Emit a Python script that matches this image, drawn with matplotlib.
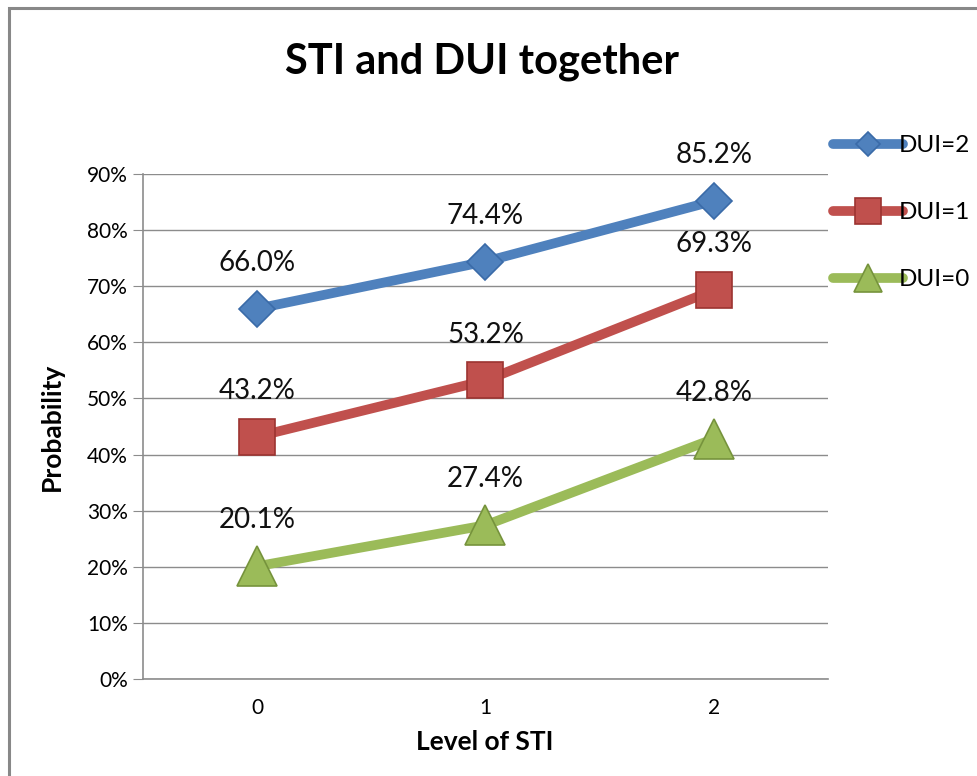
import matplotlib
matplotlib.use('Agg')
import matplotlib.pyplot as plt
from matplotlib.patches import Rectangle
from matplotlib.ticker import FuncFormatter

plt.rcParams['font.family'] = ['Lato', 'DejaVu Sans']

sti_levels = [0, 1, 2]
dui2 = [0.660, 0.744, 0.852]
dui1 = [0.432, 0.532, 0.693]
dui0 = [0.201, 0.274, 0.428]

series = [
    ('DUI=2', dui2, '#4F81BD', '#3A6BA8', 'D', 18),
    ('DUI=1', dui1, '#C0504D', '#9C3431', 's', 26),
    ('DUI=0', dui0, '#9BBB59', '#76933C', '^', 29),
]

fig = plt.figure(figsize=(9.77, 7.76), dpi=100)
ax = fig.add_axes([143 / 977, 1 - 679 / 776, 685 / 977, 505 / 776])

# outer chart border
fig.patches.append(Rectangle((9 / 977, -0.1), 1.2, 1 - 8 / 776 + 0.1,
                             transform=fig.transFigure, fill=False,
                             edgecolor='#888888', linewidth=2.2))

for label, vals, color, edge, marker, ms in series:
    ax.plot(sti_levels, vals, '-', color=color, linewidth=7,
            solid_capstyle='round', zorder=3, label=label,
            marker=marker, markersize=ms, markerfacecolor=color,
            markeredgecolor=edge, markeredgewidth=1.2)
    for x, y in zip(sti_levels, vals):
        ax.annotate('%.1f%%' % (y * 100), (x, y), xytext=(0, 33),
                    textcoords='offset points', ha='center', va='center',
                    fontsize=20, color='#111111', zorder=4)

ax.set_xlim(-0.5, 2.5)
ax.set_ylim(0, 0.9)
ax.set_yticks([i / 10 for i in range(10)])
ax.yaxis.set_major_formatter(FuncFormatter(lambda v, p: '%d%%' % round(v * 100)))
ax.set_xticks(sti_levels)
ax.grid(axis='y', color='#8C8C8C', linewidth=1)
ax.set_axisbelow(True)
for s in ['top', 'right']:
    ax.spines[s].set_visible(False)
for s in ['left', 'bottom']:
    ax.spines[s].set_color('#8C8C8C')
    ax.spines[s].set_linewidth(1.2)
ax.tick_params(axis='y', length=7, color='#8C8C8C', labelsize=15, pad=4)
ax.tick_params(axis='x', length=0, labelsize=15, pad=14)

ax.set_xlabel('Level of STI', fontsize=19, fontweight='bold')
ax.set_ylabel('Probability', fontsize=19, fontweight='bold')
ax.xaxis.set_label_coords(0.499, -0.10)
ax.yaxis.set_label_coords(-0.115, 0.5)
fig.text(482 / 977, 1 - 62 / 776, 'STI and DUI together', ha='center',
         va='center', fontsize=30, fontweight='bold')

ax.legend(loc='upper left', bbox_to_anchor=(833 / 977, 1 - 135 / 776),
          bbox_transform=fig.transFigure, frameon=False, fontsize=17.5,
          handlelength=2.9, handletextpad=-0.2, labelspacing=1.9,
          markerscale=0.7, borderaxespad=0, borderpad=0)

fig.savefig('out.png', dpi=100)
